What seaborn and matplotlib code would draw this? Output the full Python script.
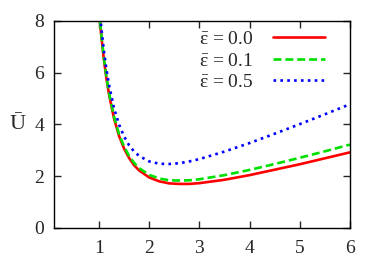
import pandas as pd
import seaborn as sns
import matplotlib
matplotlib.use("Agg")
import matplotlib.pyplot as plt

# values
r = [1.0, 1.05, 1.1, 1.15, 1.2, 1.3, 1.4, 1.5, 1.6, 1.7, 1.8, 2.0, 2.2, 2.4,
     2.6, 2.8, 3.0, 3.5, 4.0, 4.5, 5.0, 5.5, 6.0]
u_00 = [8.38, 7.33, 6.46, 5.75, 5.15, 4.22, 3.55, 3.06, 2.70, 2.42, 2.22, 1.95,
        1.80, 1.72, 1.70, 1.70, 1.73, 1.86, 2.04, 2.25, 2.46, 2.69, 2.92]
u_01 = [8.43, 7.38, 6.52, 5.80, 5.21, 4.29, 3.62, 3.14, 2.78, 2.51, 2.31, 2.05,
        1.91, 1.84, 1.83, 1.84, 1.88, 2.04, 2.24, 2.47, 2.71, 2.96, 3.22]
u_05 = [8.69, 7.65, 6.80, 6.10, 5.52, 4.62, 3.99, 3.53, 3.19, 2.95, 2.78, 2.57,
        2.48, 2.47, 2.50, 2.57, 2.66, 2.95, 3.28, 3.64, 4.01, 4.39, 4.78]
labels = [r"$\mathrm{\bar{\varepsilon}}$ = 0.0",
          r"$\mathrm{\bar{\varepsilon}}$ = 0.1",
          r"$\mathrm{\bar{\varepsilon}}$ = 0.5"]
xticks = [1, 2, 3, 4, 5, 6]
yticks = [0, 2, 4, 6, 8]

df = pd.DataFrame({"r": r * 3,
                   "U": u_00 + u_01 + u_05,
                   "eps": [labels[0]] * len(r) + [labels[1]] * len(r) + [labels[2]] * len(r)})

sns.set_style("ticks")
plt.rcParams['font.family'] = ['Liberation Serif', 'DejaVu Serif']
plt.rcParams['mathtext.fontset'] = 'custom'
plt.rcParams['mathtext.rm'] = 'Liberation Serif'
plt.rcParams['mathtext.it'] = 'Liberation Serif:italic'
plt.rcParams['font.size'] = 13

fig = plt.figure(figsize=(3.82, 2.65), dpi=100)
ax = fig.add_axes([0.141, 0.140, 0.775, 0.781])

colors = ["#ff0000", "#00e000", "#0000ff"]
styles = ["-", (0, (3, 1.5)), (0, (1, 1.6))]
for lab, c, ls in zip(labels, colors, styles):
    sns.lineplot(data=df[df.eps == lab], x="r", y="U", color=c, linestyle=ls,
                 linewidth=1.9, label=lab, ax=ax)

ax.set_xlim(0.1, 6)
ax.set_ylim(0, 8)
ax.set_xticks(xticks, labels=[str(v) for v in xticks],
              fontfamily="Liberation Serif", fontsize=14)
ax.set_yticks(yticks, labels=[str(v) for v in yticks],
              fontfamily="Liberation Serif", fontsize=14)
ax.set_xlabel("")
ax.set_ylabel("\u016a", rotation=0, fontsize=16, labelpad=12, va="center",
              family="Liberation Serif")
ax.tick_params(direction="in", top=True, right=True, length=5, width=1, pad=7)
ax.tick_params(axis="x", pad=9)
for s in ax.spines.values():
    s.set_linewidth(1)
    s.set_color("black")

leg = ax.legend(loc="upper right", bbox_to_anchor=(0.95, 1.0), frameon=False,
                markerfirst=False, handlelength=2.7,
                prop={"family": "Liberation Serif", "size": 14},
                labelspacing=0.2, borderaxespad=0.1, handletextpad=1.0)

fig.savefig("out.png", dpi=100)
